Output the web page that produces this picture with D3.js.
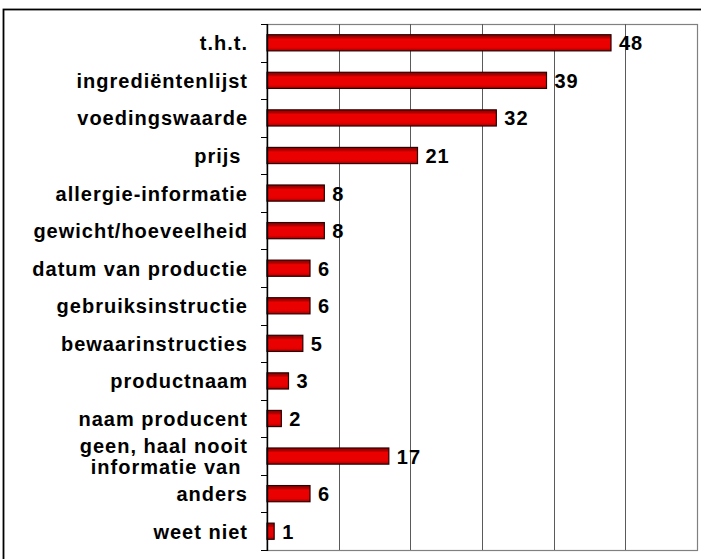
<!DOCTYPE html>
<html>
<head>
<meta charset="utf-8">
<script src="https://cdn.jsdelivr.net/npm/d3@7"></script>
<style>
  body { margin: 0; background: #fff; }
  text { font-family: "Liberation Sans", Arial, sans-serif; font-weight: bold; fill: #000; }
</style>
</head>
<body>
<div class="chart"></div>
<script>
// Horizontal bar chart: welke informatie op de verpakking
let svgWidth = 701;
let svgHeight = 559;

let categories = [
  "t.h.t.",
  "ingrediëntenlijst",
  "voedingswaarde",
  "prijs ",
  "allergie-informatie",
  "gewicht/hoeveelheid",
  "datum van productie",
  "gebruiksinstructie",
  "bewaarinstructies",
  "productnaam",
  "naam producent",
  "geen, haal nooit|informatie van ",
  "anders",
  "weet niet"
];
let values = [48, 39, 32, 21, 8, 8, 6, 6, 5, 3, 2, 17, 6, 1];
let gridTicks = [0, 10, 20, 30, 40, 50, 60];

let plot = { left: 267, top: 24, right: 697, bottom: 550 };

let svg = d3.select(".chart")
  .append("svg")
  .attr("width", svgWidth)
  .attr("height", svgHeight);

// gradient for the bars
let defs = svg.append("defs");
let grad = defs.append("linearGradient")
  .attr("id", "barFill")
  .attr("x1", 0).attr("y1", 0).attr("x2", 0).attr("y2", 1);
grad.append("stop").attr("offset", "0%").attr("stop-color", "#8c0000");
grad.append("stop").attr("offset", "18%").attr("stop-color", "#b00000");
grad.append("stop").attr("offset", "28%").attr("stop-color", "#ec0000");
grad.append("stop").attr("offset", "80%").attr("stop-color", "#e80000");
grad.append("stop").attr("offset", "100%").attr("stop-color", "#a00000");

// outer frame
svg.append("rect")
  .attr("x", 3.5)
  .attr("y", 9.5)
  .attr("width", svgWidth + 10)
  .attr("height", svgHeight + 10)
  .attr("fill", "none")
  .attr("stroke", "#000")
  .attr("stroke-width", 1.8);

let x = d3.scaleLinear()
  .domain([0, 60])
  .range([plot.left, plot.right]);

let y = d3.scaleBand()
  .domain(categories)
  .range([plot.top, plot.bottom])
  .padding(0);

// plot area border
svg.append("rect")
  .attr("x", plot.left)
  .attr("y", plot.top + 0.5)
  .attr("width", plot.right - plot.left + 0.5)
  .attr("height", plot.bottom - plot.top)
  .attr("fill", "none")
  .attr("stroke", "#808080")
  .attr("stroke-width", 1.2);

// vertical gridlines
svg.append("g")
  .selectAll("line")
  .data(gridTicks.slice(1, -1))
  .enter()
  .append("line")
  .attr("x1", d => Math.round(x(d)) + 0.5)
  .attr("x2", d => Math.round(x(d)) + 0.5)
  .attr("y1", plot.top)
  .attr("y2", plot.bottom)
  .attr("stroke", "#5a5a5a")
  .attr("stroke-width", 1);

// bars
let barH = y.bandwidth() * 0.43;
svg.append("g")
  .selectAll("rect")
  .data(values)
  .enter()
  .append("rect")
  .attr("x", x(0))
  .attr("y", (d, i) => y(categories[i]) + (y.bandwidth() - barH) / 2)
  .attr("width", d => x(d) - x(0))
  .attr("height", barH)
  .attr("fill", "url(#barFill)")
  .attr("stroke", "#2a0000")
  .attr("stroke-width", 1.2);

// value labels
svg.append("g")
  .selectAll("text")
  .data(values)
  .enter()
  .append("text")
  .attr("x", d => x(d) + 8)
  .attr("y", (d, i) => y(categories[i]) + y.bandwidth() / 2 + 7.5)
  .attr("font-size", "20px")
  .attr("letter-spacing", "1px")
  .text(d => d);

// left axis with outward ticks at band edges
let axis = svg.append("g");
axis.append("line")
  .attr("x1", plot.left + 0.5).attr("x2", plot.left + 0.5)
  .attr("y1", plot.top).attr("y2", plot.bottom + 1)
  .attr("stroke", "#000")
  .attr("stroke-width", 1.4);
let edges = categories.map(c => y(c)).concat([plot.bottom]);
axis.selectAll("line.tick")
  .data(edges)
  .enter()
  .append("line")
  .attr("class", "tick")
  .attr("x1", plot.left - 6).attr("x2", plot.left)
  .attr("y1", d => Math.round(d) + 0.5).attr("y2", d => Math.round(d) + 0.5)
  .attr("stroke", "#000")
  .attr("stroke-width", 1);

// category labels (right aligned, "|" splits lines)
let labels = svg.append("g")
  .selectAll("text")
  .data(categories)
  .enter()
  .append("text")
  .attr("text-anchor", "end")
  .attr("font-size", "20px")
  .attr("letter-spacing", "1px")
  .style("white-space", "pre");

labels.each(function (c) {
  let lines = c.split("|");
  let cy = y(c) + y.bandwidth() / 2 + 7.5;
  let lh = 21;
  let start = cy - (lines.length - 1) * lh / 2;
  d3.select(this).selectAll("tspan")
    .data(lines)
    .enter()
    .append("tspan")
    .attr("x", 248)
    .attr("y", (d, i) => start + i * lh)
    .text(d => d);
});
</script>
</body>
</html>
